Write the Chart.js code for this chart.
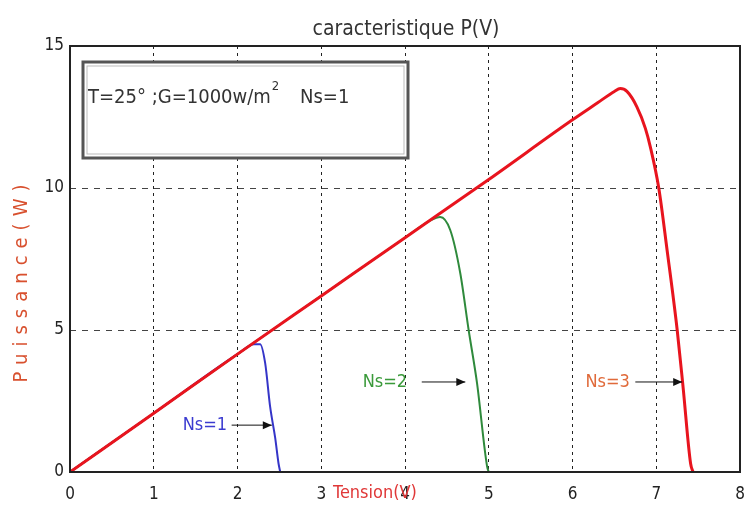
<!DOCTYPE html>
<html>
<head>
<meta charset="utf-8">
<script src="https://cdn.jsdelivr.net/npm/chart.js@4"></script>
<style>
  body { margin: 0; background: #fff; }
</style>
</head>
<body>
<canvas id="pv" width="748" height="510"></canvas>
<script>
// P(V) curves, tension in V, puissance in W
const ns1V = [0, 1, 2, 2.2, 2.27, 2.33, 2.39, 2.45, 2.49, 2.51];
const ns1P = [0, 2.07, 4.15, 4.5, 4.5, 3.84, 2.29, 1.2, 0.3, 0];

const ns2V = [0, 1, 2, 3, 4, 4.3, 4.42, 4.54, 4.66, 4.76, 4.86, 4.98, 5.0];
const ns2P = [0, 2.07, 4.15, 6.2, 8.25, 8.85, 8.98, 8.52, 7.0, 5.0, 3.13, 0.2, 0];

const ns3V = [0, 1, 2, 3, 4, 5, 6, 6.3, 6.5, 6.57, 6.65, 6.77, 6.87, 6.93, 7.03, 7.13, 7.25, 7.32, 7.41, 7.44];
const ns3P = [0, 2.07, 4.15, 6.2, 8.25, 10.3, 12.4, 13.0, 13.4, 13.5, 13.4, 12.85, 12.1, 11.44, 10.0, 7.8, 5.0, 3.0, 0.3, 0];

const xTicks = [0, 1, 2, 3, 4, 5, 6, 7, 8];
const yTicks = [0, 5, 10, 15];

// curve labels with arrows (data units)
const labels = [
  { text: 'Ns=1', x: 1.61, y: 1.65, from: 1.93, to: 2.41, color: '#3b3bd0' },
  { text: 'Ns=2', x: 3.76, y: 3.17, from: 4.2, to: 4.72, color: '#3a9a3a' },
  { text: 'Ns=3', x: 6.42, y: 3.17, from: 6.75, to: 7.31, color: '#e06a3a' }
];

const font = '"DejaVu Sans Condensed", "Liberation Sans Narrow", sans-serif';

function pts(xs, ys) {
  return xs.map((v, i) => ({ x: v, y: ys[i] }));
}

const extras = {
  id: 'extras',
  afterDraw(chart) {
    const ctx = chart.ctx;
    const a = chart.chartArea;
    const sx = chart.scales.x, sy = chart.scales.y;
    ctx.save();

    // axes box
    ctx.strokeStyle = '#222';
    ctx.lineWidth = 2;
    ctx.strokeRect(a.left, a.top, a.right - a.left, a.bottom - a.top);

    // title
    ctx.fillStyle = '#333';
    ctx.font = '21px ' + font;
    ctx.textAlign = 'center';
    ctx.textBaseline = 'middle';
    ctx.fillText('caracteristique P(V)', 406, 30);

    // x label
    ctx.fillStyle = '#e03838';
    ctx.font = '18px ' + font;
    ctx.fillText('Tension(V)', 375, 493);

    // y label
    ctx.save();
    ctx.translate(22, 280);
    ctx.rotate(-Math.PI / 2);
    ctx.fillStyle = '#d8502e';
    ctx.font = '20px ' + font;
    ctx.letterSpacing = '7px';
    ctx.fillText('Puissance(W)', 0, 0);
    ctx.restore();

    // parameter box
    ctx.fillStyle = '#fff';
    ctx.fillRect(83, 62, 325, 96);
    ctx.strokeStyle = '#555';
    ctx.lineWidth = 3;
    ctx.strokeRect(83, 62, 325, 96);
    ctx.strokeStyle = '#bbb';
    ctx.lineWidth = 1;
    ctx.strokeRect(87, 66, 317, 88);
    ctx.fillStyle = '#333';
    ctx.textAlign = 'left';
    ctx.font = '20px ' + font;
    const s1 = 'T=25° ;G=1000w/m';
    ctx.fillText(s1, 88, 98);
    const w1 = ctx.measureText(s1).width;
    ctx.font = '13px ' + font;
    ctx.fillText('2', 88 + w1 + 1, 87);
    ctx.font = '20px ' + font;
    ctx.fillText('Ns=1', 300, 98);

    // curve labels with arrows
    labels.forEach(l => {
      const py = sy.getPixelForValue(l.y);
      ctx.fillStyle = l.color;
      ctx.font = '18px ' + font;
      ctx.textAlign = 'center';
      ctx.fillText(l.text, sx.getPixelForValue(l.x), py);
      const x1 = sx.getPixelForValue(l.from), x2 = sx.getPixelForValue(l.to);
      ctx.strokeStyle = '#111';
      ctx.lineWidth = 1;
      ctx.beginPath();
      ctx.moveTo(x1, py);
      ctx.lineTo(x2, py);
      ctx.stroke();
      ctx.fillStyle = '#111';
      ctx.beginPath();
      ctx.moveTo(x2, py);
      ctx.lineTo(x2 - 9, py - 4);
      ctx.lineTo(x2 - 9, py + 4);
      ctx.closePath();
      ctx.fill();
    });
    ctx.restore();
  }
};

new Chart(document.getElementById('pv'), {
  type: 'line',
  data: {
    datasets: [
      { label: 'Ns=3', data: pts(ns3V, ns3P), borderColor: '#e8141e', borderWidth: 3, order: 1 },
      { label: 'Ns=2', data: pts(ns2V, ns2P), borderColor: '#2f8a3c', borderWidth: 2, order: 2 },
      { label: 'Ns=1', data: pts(ns1V, ns1P), borderColor: '#3535c8', borderWidth: 2, order: 3 }
    ]
  },
  options: {
    responsive: false,
    animation: false,
    parsing: false,
    elements: {
      point: { radius: 0 },
      line: { cubicInterpolationMode: 'monotone', fill: false }
    },
    layout: { padding: { top: 46, right: 8, left: 0, bottom: 0 } },
    plugins: { legend: { display: false }, tooltip: { enabled: false } },
    scales: {
      x: {
        type: 'linear',
        min: 0, max: 8,
        afterBuildTicks: s => { s.ticks = xTicks.map(v => ({ value: v })); },
        afterFit: s => { s.height = 38; s.paddingLeft = 0; s.paddingRight = 0; },
        ticks: { color: '#222', font: { family: font, size: 17 }, padding: 12 },
        grid: { color: '#222', lineWidth: 1, drawTicks: false },
        border: { display: false, dash: [3, 4] }
      },
      y: {
        min: 0, max: 15,
        afterBuildTicks: s => { s.ticks = yTicks.map(v => ({ value: v })); },
        afterFit: s => { s.width = 70; s.paddingTop = 0; s.paddingBottom = 0; },
        ticks: { color: '#222', font: { family: font, size: 17 }, padding: 6 },
        grid: { color: '#444', lineWidth: 1, drawTicks: false },
        border: { display: false, dash: [6, 6] }
      }
    }
  },
  plugins: [extras]
});
</script>
</body>
</html>
